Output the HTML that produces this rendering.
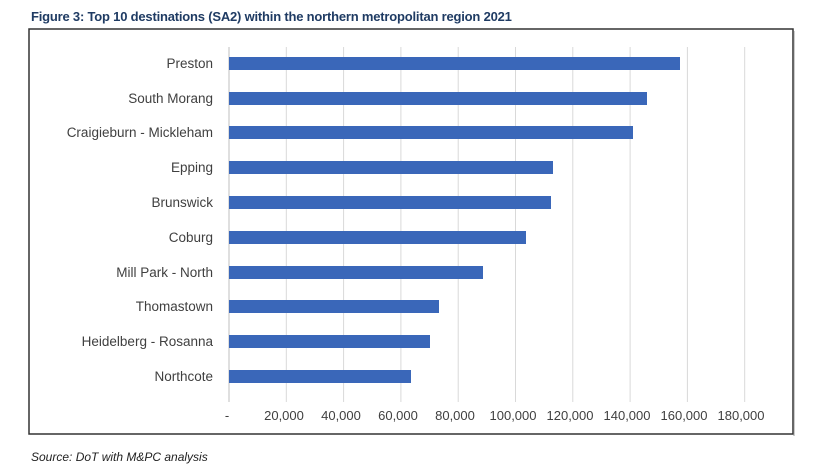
<!DOCTYPE html>
<html><head><style>
body{margin:0;background:#fff;width:818px;height:472px;position:relative;overflow:hidden;font-family:"Liberation Sans",sans-serif}
.t{position:absolute;left:31px;top:9px;font-size:13px;font-weight:bold;color:#1f3b63;letter-spacing:-0.2px}
.s{position:absolute;left:31px;top:450px;font-size:12px;font-style:italic;color:#222}
</style></head><body>
<div class="t">Figure 3: Top 10 destinations (SA2) within the northern metropolitan region 2021</div>
<svg width="818" height="472" style="position:absolute;left:0;top:0">
<rect x="29" y="29" width="764" height="405" fill="#fff" stroke="#333" stroke-width="1.5"/>
<line x1="794" y1="31" x2="794" y2="436" stroke="#999" stroke-width="1"/>
<g stroke="#d9d9d9" stroke-width="1">
<line x1="286.3" y1="47" x2="286.3" y2="402"/><line x1="343.6" y1="47" x2="343.6" y2="402"/>
<line x1="400.9" y1="47" x2="400.9" y2="402"/><line x1="458.2" y1="47" x2="458.2" y2="402"/>
<line x1="515.5" y1="47" x2="515.5" y2="402"/><line x1="572.8" y1="47" x2="572.8" y2="402"/>
<line x1="630.1" y1="47" x2="630.1" y2="402"/><line x1="687.4" y1="47" x2="687.4" y2="402"/>
<line x1="744.7" y1="47" x2="744.7" y2="402"/>
</g>
<line x1="229" y1="47" x2="229" y2="402" stroke="#bfbfbf"/>
<g fill="#3a67b9">
<rect x="229" y="57" width="451" height="13"/>
<rect x="229" y="92" width="418" height="13"/>
<rect x="229" y="126" width="404" height="13"/>
<rect x="229" y="161" width="324" height="13"/>
<rect x="229" y="196" width="322" height="13"/>
<rect x="229" y="231" width="297" height="13"/>
<rect x="229" y="266" width="254" height="13"/>
<rect x="229" y="300" width="210" height="13"/>
<rect x="229" y="335" width="201" height="13"/>
<rect x="229" y="370" width="182" height="13"/>
</g>
<g font-family="Liberation Sans, sans-serif" font-size="13.5" fill="#404040" text-anchor="end">
<text x="213" y="68">Preston</text>
<text x="213" y="103">South Morang</text>
<text x="213" y="137">Craigieburn - Mickleham</text>
<text x="213" y="172">Epping</text>
<text x="213" y="207">Brunswick</text>
<text x="213" y="242">Coburg</text>
<text x="213" y="277">Mill Park - North</text>
<text x="213" y="311">Thomastown</text>
<text x="213" y="346">Heidelberg - Rosanna</text>
<text x="213" y="381">Northcote</text>
</g>
<g font-family="Liberation Sans, sans-serif" font-size="13" fill="#404040" text-anchor="middle">
<text x="227" y="420">-</text>
<text x="284" y="420">20,000</text>
<text x="341" y="420">40,000</text>
<text x="398" y="420">60,000</text>
<text x="455" y="420">80,000</text>
<text x="513" y="420">100,000</text>
<text x="570" y="420">120,000</text>
<text x="627" y="420">140,000</text>
<text x="684" y="420">160,000</text>
<text x="741" y="420">180,000</text>
</g>
</svg>
<div class="s">Source: DoT with M&amp;PC analysis</div>
</body></html>
